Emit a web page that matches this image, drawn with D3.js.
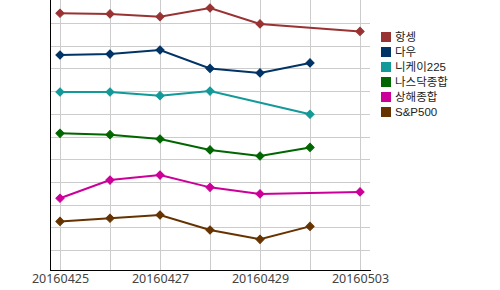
<!DOCTYPE html>
<html>
<head>
<meta charset="utf-8">
<script src="https://cdn.jsdelivr.net/npm/d3@7"></script>
<style>
  html, body { margin: 0; padding: 0; background: #fff; }
  svg { display: block; }
</style>
</head>
<body>
<div id="container"></div>
<script>
const dates = ["20160425", "20160426", "20160427", "20160428", "20160429", "20160502", "20160503"];
const tickLabels = ["20160425", "20160427", "20160429", "20160503"];

const seriesNames = ["항셍", "다우", "니케이225", "나스닥종합", "상해종합", "S&P500"];
const seriesColors = ["#993333", "#003366", "#149999", "#006600", "#cc0099", "#663300"];

const hangseng = [11.43, 11.40, 11.28, 11.66, 10.96, null, 10.63];
const dow = [9.59, 9.63, 9.81, 9.00, 8.80, 9.24, null];
const nikkei = [7.96, 7.96, 7.80, 8.00, null, 6.98, null];
const nasdaq = [6.14, 6.08, 5.89, 5.41, 5.14, 5.52, null];
const shanghai = [3.28, 4.08, 4.30, 3.76, 3.47, null, 3.56];
const sp500 = [2.26, 2.40, 2.54, 1.88, 1.47, 2.04, null];

const seriesValues = [hangseng, dow, nikkei, nasdaq, shanghai, sp500];

const width = 500;
const height = 290;
const marginLeft = 50;
const plotRight = 370;
const axisY = 270.5;

const x = d3
  .scalePoint()
  .domain(dates)
  .range([marginLeft, plotRight])
  .padding(0.2);

const y = d3
  .scaleLinear()
  .domain([0, 12])
  .range([272.7, 0.3]);

const svg = d3.create("svg").attr("width", width).attr("height", height);

// grid
svg
  .append("g")
  .selectAll("line")
  .data(d3.range(1, 12))
  .enter()
  .append("line")
  .attr("x1", marginLeft)
  .attr("x2", plotRight)
  .attr("y1", (d) => Math.round(y(d)) + 0.5)
  .attr("y2", (d) => Math.round(y(d)) + 0.5)
  .attr("stroke", "#cccccc")
  .attr("stroke-width", 1);

svg
  .append("g")
  .selectAll("line")
  .data(dates)
  .enter()
  .append("line")
  .attr("x1", (d) => Math.round(x(d)) + 0.5)
  .attr("x2", (d) => Math.round(x(d)) + 0.5)
  .attr("y1", 0)
  .attr("y2", axisY)
  .attr("stroke", "#cccccc")
  .attr("stroke-width", 1);

// axes
const xAxis = svg
  .append("g")
  .attr("transform", `translate(0,${axisY})`)
  .call(d3.axisBottom(x).tickValues(tickLabels).tickSize(0).tickPadding(3).tickSizeOuter(0));

xAxis.select(".domain").attr("stroke", "#000").attr("d", `M${marginLeft},0H${plotRight + 1}`);
xAxis
  .selectAll("text")
  .attr("fill", "#444")
  .attr("font-family", "'Noto Sans', sans-serif")
  .attr("font-size", "12.5px")
  .attr("dy", "0.75em");

svg
  .append("line")
  .attr("x1", marginLeft + 0.5)
  .attr("x2", marginLeft + 0.5)
  .attr("y1", 0)
  .attr("y2", axisY)
  .attr("stroke", "#000");

// lines
const line = d3
  .line()
  .x((d) => x(d.date))
  .y((d) => y(d.value));

const diamond = d3.symbol().type(d3.symbolSquare).size(34);

seriesValues.forEach((values, i) => {
  const points = dates
    .map((date, j) => ({ date, value: values[j] }))
    .filter((d) => d.value !== null);

  svg
    .append("path")
    .datum(points)
    .attr("fill", "none")
    .attr("stroke", seriesColors[i])
    .attr("stroke-width", 2)
    .attr("d", line);

  svg
    .append("g")
    .selectAll("path")
    .data(points)
    .enter()
    .append("path")
    .attr("d", diamond)
    .attr("transform", (d) => `translate(${x(d.date)},${y(d.value)}) rotate(45)`)
    .attr("fill", seriesColors[i])
    .attr("stroke", seriesColors[i])
    .attr("stroke-width", 1);
});

// legend
const legend = svg.append("g").attr("transform", "translate(381,32)");

legend
  .selectAll("rect")
  .data(seriesNames)
  .enter()
  .append("rect")
  .attr("x", 0)
  .attr("y", (d, i) => i * 15)
  .attr("width", 10)
  .attr("height", 10)
  .attr("fill", (d, i) => seriesColors[i]);

legend
  .selectAll("text")
  .data(seriesNames)
  .enter()
  .append("text")
  .attr("x", 14)
  .attr("y", (d, i) => i * 15 + 5)
  .attr("dy", "0.38em")
  .attr("fill", "#222")
  .attr("font-family", "'Liberation Sans', 'Noto Sans CJK KR', sans-serif")
  .attr("font-size", "11.5px")
  .text((d) => d);

d3.select("#container").append(() => svg.node());
</script>
</body>
</html>
